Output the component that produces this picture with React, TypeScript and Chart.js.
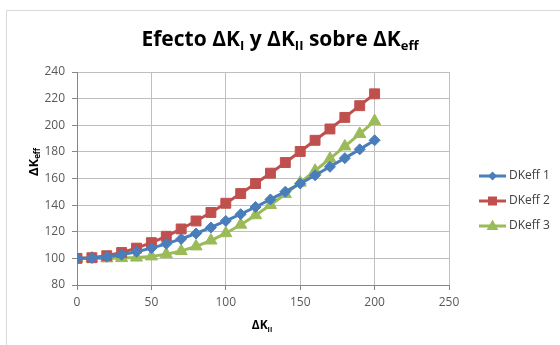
import React, { useEffect, useRef } from "react";
import { Chart, registerables } from "chart.js";

Chart.register(...registerables);

const xValues = [0, 10, 20, 30, 40, 50, 60, 70, 80, 90, 100, 110, 120, 130, 140, 150, 160, 170, 180, 190, 200];
const dkeff1 = [100, 100.3, 101.3, 102.8, 105.0, 107.7, 110.9, 114.6, 118.7, 123.2, 128.1, 133.2, 138.6, 144.3, 150.1, 156.2, 162.4, 168.8, 175.3, 181.9, 188.7];
const dkeff2 = [100, 100.5, 102.0, 104.4, 107.7, 111.8, 116.6, 122.1, 128.1, 134.5, 141.4, 148.7, 156.2, 164.0, 172.0, 180.3, 188.7, 197.2, 205.9, 214.7, 223.6];
const dkeff3 = [100, 100.0, 100.0, 100.2, 100.6, 101.5, 103.1, 105.5, 109.0, 113.4, 118.9, 125.3, 132.4, 140.1, 148.3, 156.9, 165.8, 174.9, 184.1, 193.5, 203.1];
const seriesNames = ["DKeff 1", "DKeff 2", "DKeff 3"];
const seriesColors = ["#4A7EBB", "#C0504D", "#9BBB59"];
const seriesMarkers = ["rectRot", "rect", "triangle"];
const xTicks = [0, 50, 100, 150, 200, 250];
const yTicks = [80, 100, 120, 140, 160, 180, 200, 220, 240];

const FONT = "'Open Sans', 'Liberation Sans', sans-serif";

type Part = { t: string; sub?: boolean };

function richWidth(ctx: CanvasRenderingContext2D, parts: Part[], size: number, weight: string) {
  let w = 0;
  for (const p of parts) {
    ctx.font = `${weight} ${p.sub ? Math.round(size * 0.62) : size}px ${FONT}`;
    w += ctx.measureText(p.t).width;
  }
  return w;
}

function drawRich(ctx: CanvasRenderingContext2D, parts: Part[], cx: number, cy: number, size: number, weight: string, color: string) {
  const w = richWidth(ctx, parts, size, weight);
  let x = cx - w / 2;
  ctx.fillStyle = color;
  ctx.textBaseline = "middle";
  ctx.textAlign = "left";
  for (const p of parts) {
    const s = p.sub ? Math.round(size * 0.62) : size;
    ctx.font = `${weight} ${s}px ${FONT}`;
    ctx.fillText(p.t, x, p.sub ? cy + size * 0.3 : cy);
    x += ctx.measureText(p.t).width;
  }
}

function drawMarker(ctx: CanvasRenderingContext2D, kind: string, x: number, y: number, r: number, color: string) {
  ctx.fillStyle = color;
  ctx.beginPath();
  if (kind === "rectRot") {
    ctx.moveTo(x, y - r);
    ctx.lineTo(x + r, y);
    ctx.lineTo(x, y + r);
    ctx.lineTo(x - r, y);
  } else if (kind === "rect") {
    ctx.rect(x - r * 0.75, y - r * 0.75, r * 1.5, r * 1.5);
  } else {
    ctx.moveTo(x, y - r);
    ctx.lineTo(x + r * 0.9, y + r * 0.6);
    ctx.lineTo(x - r * 0.9, y + r * 0.6);
  }
  ctx.closePath();
  ctx.fill();
}

const decorPlugin = {
  id: "decor",
  beforeDraw(chart: any) {
    const ctx = chart.ctx as CanvasRenderingContext2D;
    ctx.save();
    ctx.fillStyle = "#ffffff";
    ctx.fillRect(0, 0, chart.width, chart.height);
    ctx.strokeStyle = "#d9d9d9";
    ctx.lineWidth = 1;
    ctx.beginPath();
    ctx.moveTo(6.5, chart.height);
    ctx.lineTo(6.5, 10.5);
    ctx.lineTo(chart.width, 10.5);
    ctx.stroke();
    ctx.restore();
  },
  afterDraw(chart: any) {
    const ctx = chart.ctx as CanvasRenderingContext2D;
    ctx.save();
    // Title
    drawRich(
      ctx,
      [
        { t: "Efecto ΔK" },
        { t: "I", sub: true },
        { t: " y ΔK" },
        { t: "II", sub: true },
        { t: " sobre ΔK" },
        { t: "eff", sub: true },
      ],
      280,
      40,
      21,
      "bold",
      "#000000"
    );
    // X axis title
    drawRich(ctx, [{ t: "ΔK" }, { t: "II", sub: true }], 262, 326, 12, "bold", "#000000");
    // Y axis title (rotated)
    ctx.save();
    ctx.translate(34, 162);
    ctx.rotate(-Math.PI / 2);
    drawRich(ctx, [{ t: "ΔK" }, { t: "eff", sub: true }], 0, 0, 13, "bold", "#000000");
    ctx.restore();
    // Legend
    const rows = [176, 201, 226];
    for (let i = 0; i < 3; i++) {
      const y = rows[i];
      ctx.strokeStyle = seriesColors[i];
      ctx.lineWidth = 3;
      ctx.beginPath();
      ctx.moveTo(479, y);
      ctx.lineTo(506, y);
      ctx.stroke();
      drawMarker(ctx, seriesMarkers[i], 492.5, y, i === 0 ? 4.5 : i === 1 ? 6 : 6.5, seriesColors[i]);
      ctx.fillStyle = "#404040";
      ctx.font = `12px ${FONT}`;
      ctx.textAlign = "left";
      ctx.textBaseline = "middle";
      ctx.fillText(seriesNames[i], 509, y);
    }
    ctx.restore();
  },
};

export default function App() {
  const ref = useRef<HTMLCanvasElement | null>(null);
  useEffect(() => {
    document.body.style.margin = "0";
    const canvas = ref.current;
    if (!canvas) return;
    const mk = (arr: number[]) => xValues.map((x, i) => ({ x, y: arr[i] }));
    const all = [dkeff1, dkeff2, dkeff3];
    const chart = new Chart(canvas, {
      type: "line",
      data: {
        datasets: all.map((arr, i) => ({
          label: seriesNames[i],
          data: mk(arr),
          borderColor: seriesColors[i],
          backgroundColor: seriesColors[i],
          borderWidth: 3,
          pointStyle: seriesMarkers[i] as any,
          pointRadius: i === 0 ? 5.5 : i === 1 ? 7 : 7,
          pointBorderWidth: 1,
          pointBorderColor: seriesColors[i],
          pointBackgroundColor: seriesColors[i],
          tension: 0,
        })),
      },
      options: {
        responsive: false,
        animation: false,
        layout: { padding: { top: 72, right: 111, left: 0, bottom: 0 } },
        plugins: {
          legend: { display: false },
          title: { display: false },
          tooltip: { enabled: false },
        },
        scales: {
          x: {
            type: "linear",
            min: 0,
            max: 250,
            afterBuildTicks: (s: any) => {
              s.ticks = xTicks.map((v) => ({ value: v }));
            },
            afterFit: (s: any) => {
              s.height = 60;
            },
            grid: { color: "#bfbfbf", tickLength: 5, drawTicks: true, tickColor: "#868686" },
            border: { color: "#868686" },
            ticks: { color: "#595959", font: { size: 12, family: FONT }, padding: 5, maxRotation: 0 },
          },
          y: {
            type: "linear",
            min: 80,
            max: 240,
            afterBuildTicks: (s: any) => {
              s.ticks = yTicks.map((v) => ({ value: v }));
            },
            afterFit: (s: any) => {
              s.width = 77;
            },
            grid: { color: "#bfbfbf", tickLength: 5, drawTicks: true, tickColor: "#868686" },
            border: { color: "#868686" },
            ticks: { color: "#595959", font: { size: 12, family: FONT }, padding: 7 },
          },
        },
      },
      plugins: [decorPlugin],
    });
    return () => chart.destroy();
  }, []);
  return <canvas ref={ref} width={560} height={345} style={{ display: "block" }} />;
}
